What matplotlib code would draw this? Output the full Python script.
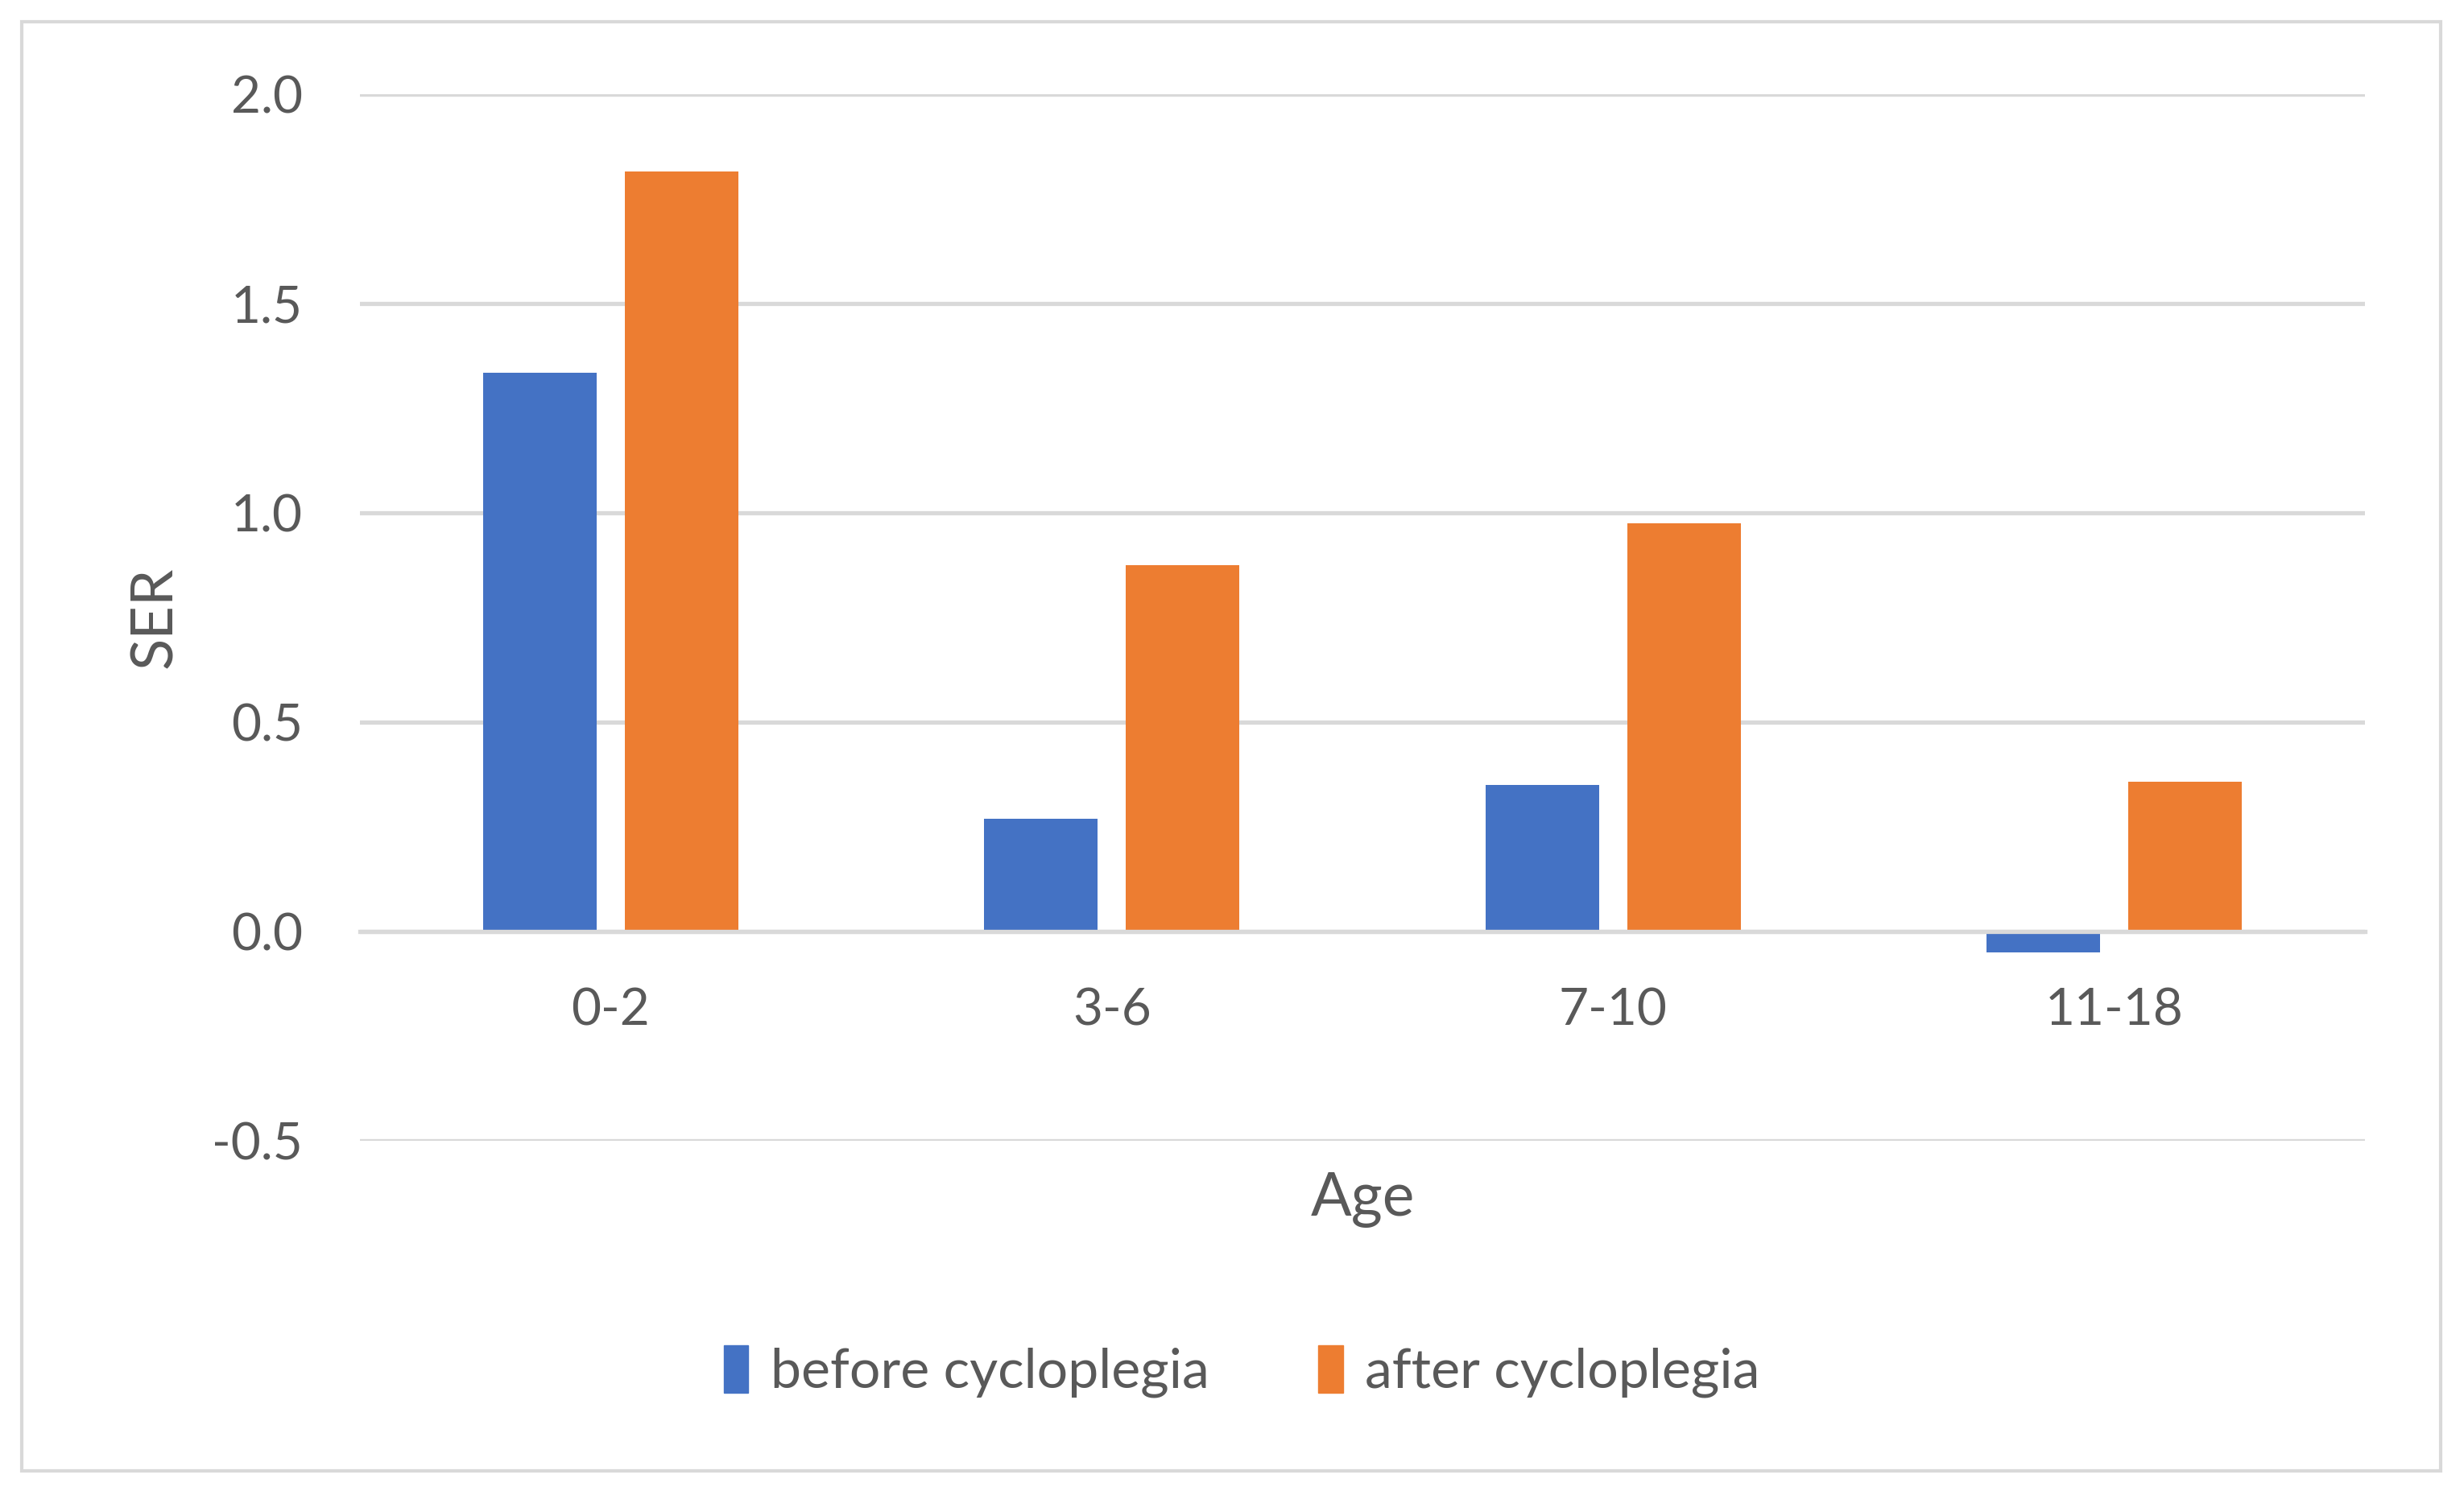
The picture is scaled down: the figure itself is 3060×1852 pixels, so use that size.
import numpy as np
import matplotlib
matplotlib.use("Agg")
import matplotlib.pyplot as plt
from matplotlib.patches import Rectangle, Patch

# data
age_groups = ["0-2", "3-6", "7-10", "11-18"]
before_cyclo = [1.335, 0.27, 0.35, -0.05]
after_cyclo = [1.815, 0.875, 0.975, 0.357]
y_ticks = [-0.5, 0.0, 0.5, 1.0, 1.5, 2.0]

BLUE = "#4472C4"
ORANGE = "#ED7D31"
GRID = "#D9D9D9"
TEXT = "#595959"

plt.rcParams['font.family'] = ['Lato', 'DejaVu Sans']

fig = plt.figure(figsize=(30.6, 18.52), dpi=100)
ax = fig.add_axes([0.1461, 0.2349, 0.8137, 0.7019])

# outer chart border
fig.patches.append(Rectangle((27 / 3060, 25 / 1852), 3004 / 3060, 1800 / 1852,
                             transform=fig.transFigure, fill=False,
                             edgecolor=GRID, linewidth=3))

x = np.arange(len(age_groups))
w = 0.2265
off = 0.1414
ax.bar(x - off, before_cyclo, w, color=BLUE, zorder=3, label="before cycloplegia")
ax.bar(x + off, after_cyclo, w, color=ORANGE, zorder=3, label="after cycloplegia")

ax.set_xlim(-0.5, len(age_groups) - 0.5)
ax.set_ylim(-0.5, 2.0)
ax.set_yticks(y_ticks)
ax.set_yticklabels([f"{v:.1f}" for v in y_ticks])
ax.set_xticks(x)
ax.set_xticklabels(age_groups)

ax.grid(axis="y", color=GRID, linewidth=3.8, zorder=0)
# category axis sits on zero, like excel
ax.spines["bottom"].set_position(("data", 0))
ax.spines["bottom"].set_color(GRID)
ax.spines["bottom"].set_linewidth(3.8)
ax.spines["bottom"].set_zorder(4)
for s in ["top", "left", "right"]:
    ax.spines[s].set_visible(False)
ax.tick_params(axis="both", length=0, labelsize=46, colors=TEXT)
ax.tick_params(axis="y", pad=51)
ax.tick_params(axis="x", pad=50)

ax.set_ylabel("SER", fontsize=52, color=TEXT, labelpad=28)
ax.set_xlabel("Age", fontsize=54, color=TEXT)
ax.xaxis.set_label_coords(0.5, -0.03)

handles = [Patch(color=BLUE, label="before cycloplegia"),
           Patch(color=ORANGE, label="after cycloplegia")]
leg = fig.legend(handles=handles, loc="center", bbox_to_anchor=(0.504, 0.08),
                 ncol=2, frameon=False, fontsize=49, handlelength=0.45,
                 handleheight=0.95, handletextpad=0.4, columnspacing=2.0)
for t in leg.get_texts():
    t.set_color(TEXT)

fig.savefig("out.png", dpi=100, facecolor="white")
